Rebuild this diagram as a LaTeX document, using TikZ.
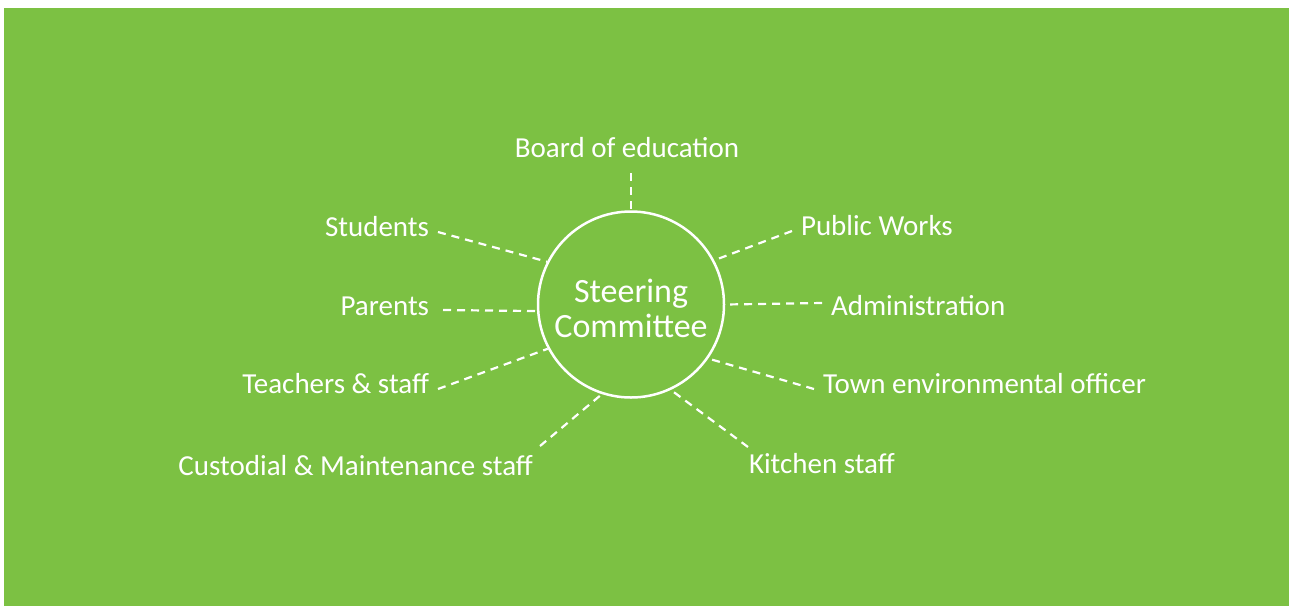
\documentclass[tikz,border=0pt]{standalone}
\usepackage{fontspec}
\setmainfont{Carlito}
\usetikzlibrary{positioning}
\definecolor{leaf}{RGB}{124,193,67}

\begin{document}
\begin{tikzpicture}[x=1pt,y=-1pt,
		who/.style={text=white,inner sep=0pt,outer sep=0pt,font=\fontsize{29}{34}\selectfont},
		hub/.style={circle,draw=white,line width=2.5pt,minimum size=186pt,inner sep=0pt,
			text=white,align=center,text height=65pt,text depth=0pt,font=\fontsize{34}{35}\selectfont},
		link/.style={draw=white,line width=2.2pt,dash pattern=on 8pt off 6pt}]
		\fill[white] (0,0) rectangle (1289,606);
		\fill[leaf] (4,8) rectangle (1289,606);
		\useasboundingbox (0,0) rectangle (1289,606);
		\node[hub] (sc) at (631,304.5) {Steering\\Committee};
		% left side
		\node[who,anchor=base east] (stu) at (429,236) {Students};
		\node[who,anchor=base east] (par) at (429,315) {Parents};
		\node[who,anchor=base east] (tea) at (429,393) {Teachers \& staff};
		\node[who,anchor=base east] (cus) at (533,475) {Custodial \& Maintenance staff};
		% top and right side
		\node[who,anchor=base] (brd) at (627,157) {Board of education};
		\node[who,anchor=base west] (pub) at (801,235) {Public Works};
		\node[who,anchor=base west] (adm) at (831,315) {Administration};
		\node[who,anchor=base west] (twn) at (823,393) {Town environmental officer};
		\node[who,anchor=base west] (kit) at (749,473) {Kitchen staff};
		\path[link]
			([xshift=9pt,yshift=4pt]stu.base east) edge (sc.153)
			([xshift=14pt,yshift=5pt]par.base east) edge (sc.184)
			([xshift=9pt,yshift=4pt]tea.base east) edge (sc.208)
			([xshift=7pt,yshift=29pt]cus.base east) edge (sc.252)
			([xshift=4pt,yshift=-16pt]brd.base) edge (sc.90)
			([xshift=-9pt,yshift=4pt]pub.base west) edge (sc.28)
			([xshift=-9pt,yshift=12pt]adm.base west) edge (sc.0)
			([xshift=-9pt,yshift=4pt]twn.base west) edge (sc.-35)
			([xshift=-1pt,yshift=26pt]kit.base west) edge (sc.-65);
	\end{tikzpicture}
\end{document}
